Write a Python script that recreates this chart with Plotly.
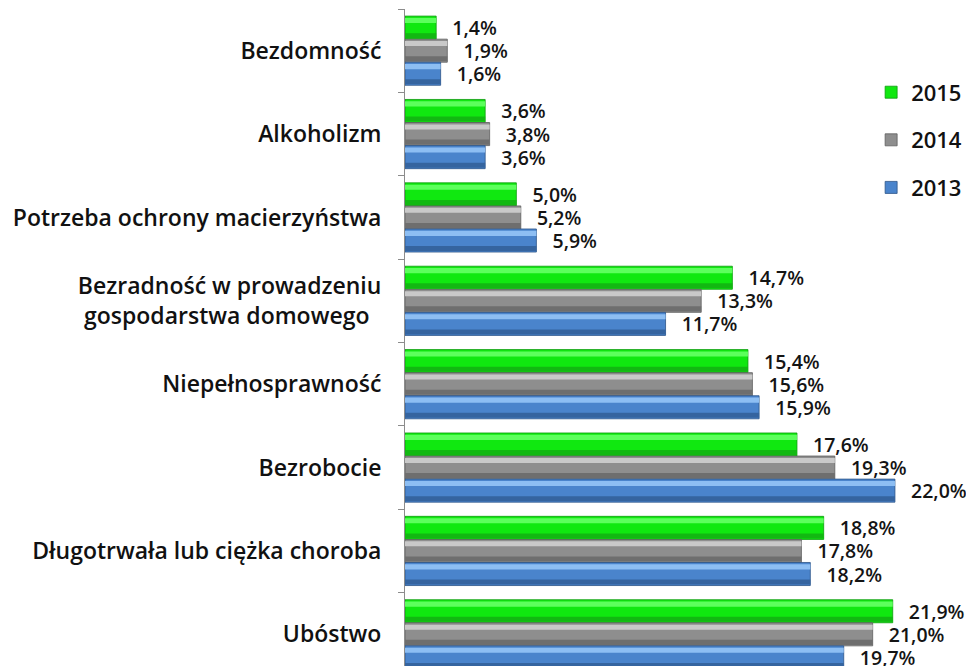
import plotly.graph_objects as go

categories = [
    "Bezdomność",
    "Alkoholizm",
    "Potrzeba ochrony macierzyństwa",
    "Bezradność w prowadzeniu<br>gospodarstwa domowego\u00a0\u00a0",
    "Niepełnosprawność",
    "Bezrobocie",
    "Długotrwała lub ciężka choroba",
    "Ubóstwo",
]
v2015 = [1.4, 3.6, 5.0, 14.7, 15.4, 17.6, 18.8, 21.9]
v2014 = [1.9, 3.8, 5.2, 13.3, 15.6, 19.3, 17.8, 21.0]
v2013 = [1.6, 3.6, 5.9, 11.7, 15.9, 22.0, 18.2, 19.7]

# name, values, main colour, light top colour, dark bottom colour, edge
series = [
    ("2015", v2015, "#10E810", "#5CFF5C", "#12B812", "#0C9A0C"),
    ("2014", v2014, "#8E8E8E", "#C9C9C9", "#6E6E6E", "#5E5E5E"),
    ("2013", v2013, "#4A84CC", "#8DBEF3", "#35649F", "#2C5488"),
]

FONT = "Open Sans"
GROUP = 0.83
W = GROUP / len(series)

fig = go.Figure()
for i, (name, vals, col, light, dark, edge) in enumerate(series):
    off = -GROUP / 2 + i * W
    labels = ["\u2007\u200a" + f"{v:.1f}".replace(".", ",") + "%" for v in vals]
    fig.add_trace(go.Bar(
        name=name, y=categories, x=vals, orientation="h",
        width=W, offset=off,
        marker=dict(color=col, line=dict(color=edge, width=0.8)),
        text=labels, textposition="outside", cliponaxis=False,
        constraintext="none",
        textfont=dict(family=FONT, size=19.5, color="#141414", weight=600),
        legendgroup=name, hoverinfo="skip",
    ))
    # light bevel strip near the top of each bar
    fig.add_trace(go.Bar(
        y=categories, x=vals, orientation="h",
        width=W * 0.22, offset=off + W * 0.08,
        marker=dict(color=light, line=dict(width=0)),
        showlegend=False, hoverinfo="skip",
    ))
    # dark strip near the bottom of each bar
    fig.add_trace(go.Bar(
        y=categories, x=vals, orientation="h",
        width=W * 0.22, offset=off + W * 0.74,
        marker=dict(color=dark, line=dict(width=0)),
        showlegend=False, hoverinfo="skip",
    ))

fig.update_layout(
    width=966, height=658,
    margin=dict(l=397, r=4, t=1, b=0, autoexpand=False),
    paper_bgcolor="white", plot_bgcolor="white",
    barmode="overlay",
    showlegend=True,
    legend=dict(x=0.825, y=0.905, xanchor="left", yanchor="top",
                font=dict(family=FONT, size=22, color="#111", weight=600),
                tracegroupgap=16, bgcolor="rgba(0,0,0,0)"),
    xaxis=dict(range=[0, 25.37], visible=False, showgrid=False),
    yaxis=dict(
        type="category", range=[7.38, -0.5], showgrid=False, automargin=False,
        showline=True, linecolor="#8c8c8c", linewidth=1,
        ticks="outside", ticklen=6, tickcolor="#8c8c8c", tickson="boundaries",
        ticklabelstandoff=18,
        tickfont=dict(family=FONT, size=23, color="#111", weight=600),
    ),
)
fig.write_html("out.html")
